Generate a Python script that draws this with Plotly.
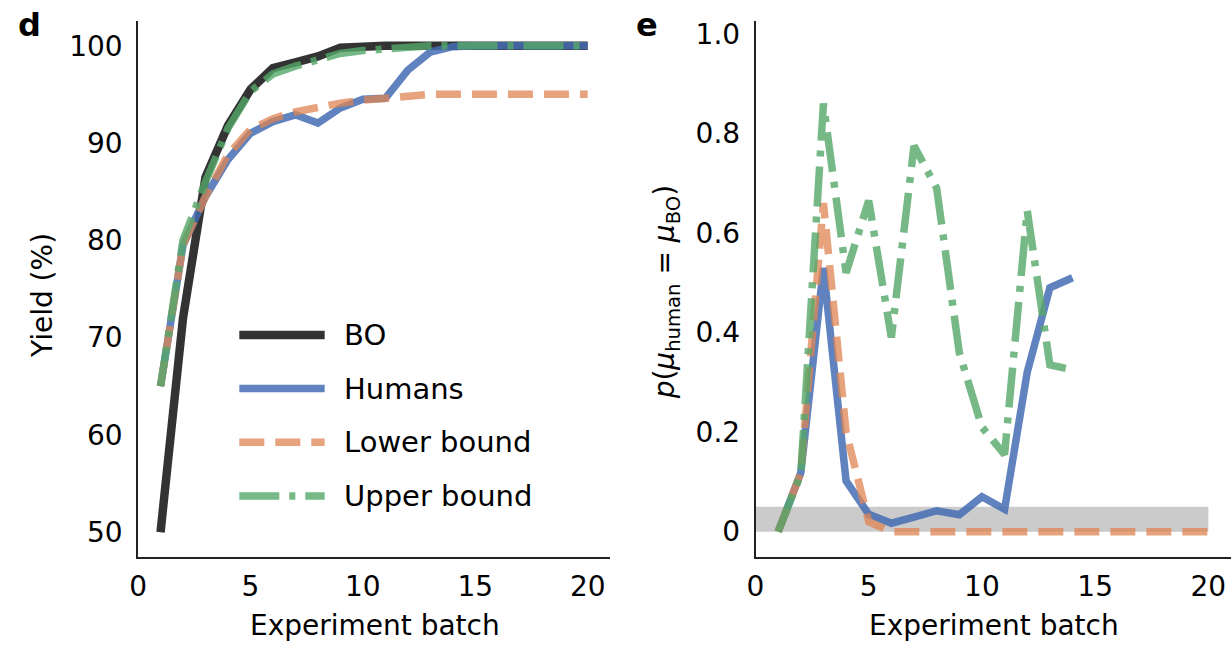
import plotly.graph_objects as go

# ---- data -------------------------------------------------------------
batch = [1, 2, 3, 4, 5, 6, 7, 8, 9, 10, 11, 12, 13, 14, 15, 16, 17, 18, 19, 20]

# panel d: best yield found so far (%)
yield_bo = [50.0, 72.0, 86.5, 91.8, 95.5, 97.7, 98.3, 98.9, 99.8, 99.95,
            100.0, 100.0, 100.0, 100.0, 100.0, 100.0, 100.0, 100.0, 100.0, 100.0]
yield_humans = [65.0, 79.5, 84.5, 88.3, 91.0, 92.2, 92.9, 92.05, 93.6, 94.5,
                94.6, 97.5, 99.35, 99.9, 100.0, 100.0, 100.0, 100.0, 100.0, 100.0]
yield_lower = [65.0, 79.5, 84.5, 88.8, 91.4, 92.5, 93.2, 93.7, 94.1, 94.4,
               94.6, 94.8, 95.0, 95.0, 95.0, 95.0, 95.0, 95.0, 95.0, 95.0]
yield_upper = [65.0, 80.0, 86.0, 91.5, 95.3, 97.1, 97.9, 98.5, 99.2, 99.5,
               99.7, 99.9, 100.0, 100.0, 100.0, 100.0, 100.0, 100.0, 100.0, 100.0]

# panel e: p-value of equal means
batch_p = [1, 2, 3, 4, 5, 6, 7, 8, 9, 10, 11, 12, 13, 14]
p_humans = [0.0, 0.118, 0.53, 0.102, 0.035, 0.017, 0.029, 0.042, 0.034, 0.07,
            0.045, 0.32, 0.49, 0.51]
p_lower = [0.0, 0.118, 0.66, 0.2, 0.02, 0.0, 0.0, 0.0, 0.0, 0.0,
           0.0, 0.0, 0.0, 0.0, 0.0, 0.0, 0.0, 0.0, 0.0, 0.0]
p_upper = [0.0, 0.115, 0.86, 0.52, 0.665, 0.39, 0.775, 0.69, 0.36, 0.21,
           0.155, 0.645, 0.335, 0.325]
p_threshold = 0.05

series_names = ["BO", "Humans", "Lower bound", "Upper bound"]
yield_ticks = [50, 60, 70, 80, 90, 100]
p_ticks = [0, 0.2, 0.4, 0.6, 0.8, 1.0]
p_tick_text = ["0", "0.2", "0.4", "0.6", "0.8", "1.0"]
batch_ticks = [0, 5, 10, 15, 20]

# ---- styling ------------------------------------------------------------
W, H = 1231, 647
FONT = "DejaVu Sans"
STYLES = {
    "BO": dict(color="rgba(0,0,0,0.8)", width=8.5, dash="solid"),
    "Humans": dict(color="rgba(68,108,180,0.85)", width=7.5, dash="solid"),
    "Lower bound": dict(color="rgba(221,132,82,0.75)", width=7.5, dash="25px,11px"),
    "Upper bound": dict(color="rgba(85,168,104,0.8)", width=7.5, dash="40px,10px,6px,10px"),
}


def px_x(px):
    return px / W


def px_y(py):
    return 1 - py / H


fig = go.Figure()

for name, ys in zip(series_names, [yield_bo, yield_humans, yield_lower, yield_upper]):
    fig.add_trace(go.Scatter(x=batch, y=ys, mode="lines", name=name,
                             line=STYLES[name], xaxis="x", yaxis="y",
                             showlegend=False, hoverinfo="skip"))

for name, xs, ys in zip(series_names[1:], [batch_p, batch, batch_p],
                        [p_humans, p_lower, p_upper]):
    fig.add_trace(go.Scatter(x=xs, y=ys, mode="lines", name=name,
                             line=STYLES[name], xaxis="x2", yaxis="y2",
                             showlegend=False, hoverinfo="skip"))

# significance band
fig.add_shape(type="rect", xref="x2", yref="y2", x0=0, x1=batch[-1],
              y0=0, y1=p_threshold, fillcolor="#cbcbcb", line_width=0,
              layer="below")

# legend drawn as line samples + labels
legend_rows = [333, 387, 441, 495]
for name, row in zip(series_names, legend_rows):
    st = STYLES[name]
    fig.add_shape(type="line", xref="paper", yref="paper",
                  x0=px_x(232), x1=px_x(318), y0=px_y(row), y1=px_y(row),
                  line=dict(color=st["color"], width=st["width"], dash=st["dash"]))
    fig.add_annotation(text=name, xref="paper", yref="paper",
                       x=px_x(335), y=px_y(row), xanchor="left", yanchor="middle",
                       showarrow=False, font=dict(family=FONT, size=29, color="black"))

axis_common = dict(showline=True, linecolor="#222", linewidth=1.5, mirror=False,
                   showgrid=False, zeroline=False, ticks="",
                   tickfont=dict(family=FONT, size=28, color="black"))

fig.update_layout(
    width=W, height=H,
    margin=dict(l=0, r=0, t=0, b=0),
    paper_bgcolor="white", plot_bgcolor="white",
    xaxis=dict(domain=[px_x(130), px_x(605.6)], range=[0, 21],
               tickvals=batch_ticks, anchor="y", ticklabelstandoff=4, **axis_common),
    yaxis=dict(domain=[px_y(556), px_y(17.5)], range=[47.5, 102.5],
               tickvals=yield_ticks, anchor="x", ticklabelstandoff=8, **axis_common),
    xaxis2=dict(domain=[px_x(752), 1.0], range=[0, 21],
                tickvals=batch_ticks, anchor="y2", ticklabelstandoff=4, **axis_common),
    yaxis2=dict(domain=[px_y(556), px_y(17.5)], range=[-0.05, 1.025],
                tickvals=p_ticks, ticktext=p_tick_text, anchor="x2",
                ticklabelstandoff=8, **axis_common),
)

label_font = dict(family=FONT, size=28, color="black")
texts = [
    dict(text="Experiment batch", x=px_x(369), y=px_y(625), textangle=0),
    dict(text="Experiment batch", x=px_x(992), y=px_y(625), textangle=0),
    dict(text="Yield (%)", x=px_x(33), y=px_y(293), textangle=-90),
    dict(text="<i>p</i>(<i>μ</i><sub>human</sub> = <i>μ</i><sub>BO</sub>)",
         x=px_x(662), y=px_y(290), textangle=-90),
]
for t in texts:
    fig.add_annotation(xref="paper", yref="paper", showarrow=False,
                       xanchor="center", yanchor="middle", font=label_font, **t)

for letter, xpos in [("d", 21), ("e", 643)]:
    fig.add_annotation(text=f"<b>{letter}</b>", xref="paper", yref="paper",
                       x=px_x(xpos), y=px_y(21), showarrow=False,
                       xanchor="center", yanchor="middle",
                       font=dict(family=FONT, size=32, color="black"))

fig.write_html("out.html")
